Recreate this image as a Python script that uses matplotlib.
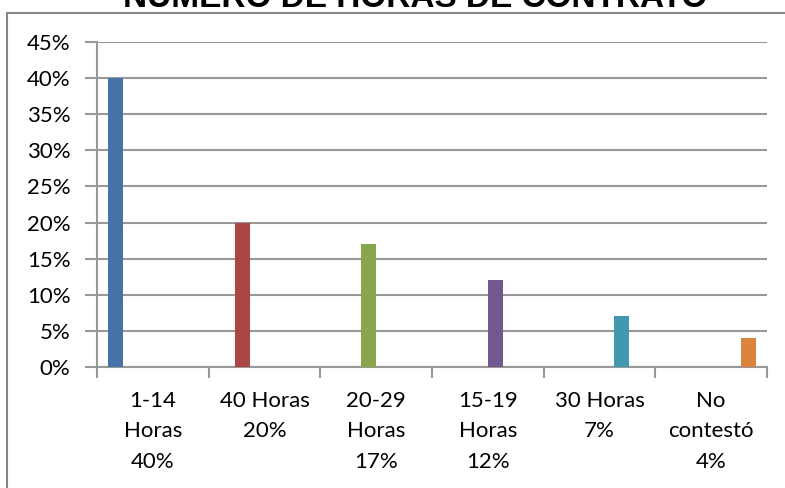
import matplotlib.pyplot as plt
from matplotlib.patches import Rectangle
from matplotlib.ticker import PercentFormatter

categories = ['1-14\nHoras\n40%', '40 Horas\n20%', '20-29\nHoras\n17%',
              '15-19\nHoras\n12%', '30 Horas\n7%', 'No\ncontestó\n4%']
values = [0.40, 0.20, 0.17, 0.12, 0.07, 0.04]
colors = ['#4572A7', '#AA4643', '#89A54E', '#71588F', '#4198AF', '#DB843D']
title = 'NÚMERO DE HORAS DE CONTRATO'

W, H = 785, 488
fig = plt.figure(figsize=(W / 100, H / 100), dpi=100)
fig.patch.set_facecolor('white')

# outer chart border
fig.add_artist(Rectangle((6.5 / W, -0.01), 1.0, 1 - 13 / H + 0.01,
                         transform=fig.transFigure, fill=False,
                         edgecolor='#868686', linewidth=1.5))

ax = fig.add_axes([97 / W, 1 - 367 / H, (767 - 97) / W, (367 - 42) / H])

grid = '#989898'
n = len(values)
w = 1 / (n + 1.5)
for j, (v, c) in enumerate(zip(values, colors)):
    ax.bar(j + (j - (n - 1) / 2) * w, v, width=w, color=c, zorder=3)

ax.set_xlim(-0.5, n - 0.5)
ax.set_ylim(0, 0.45)
ax.set_yticks([i * 0.05 for i in range(10)])
ax.yaxis.set_major_formatter(PercentFormatter(1.0, decimals=0))
ax.yaxis.grid(True, color=grid, linewidth=1.5, zorder=0)

ax.set_xticks([i - 0.5 for i in range(n + 1)])
ax.set_xticklabels([])
ax.set_xticks(range(n), minor=True)
ax.set_xticklabels(categories, minor=True, fontsize=16, family='Lato',
                   linespacing=1.68)
ax.tick_params(axis='x', which='minor', length=0, pad=17)
ax.tick_params(axis='x', which='major', length=8, width=1.5, color=grid)
ax.tick_params(axis='y', length=9, width=1.5, color=grid, pad=10,
               labelsize=16)
for lab in ax.get_yticklabels():
    lab.set_family('Lato')

for s in ['top', 'right']:
    ax.spines[s].set_visible(False)
for s in ['left', 'bottom']:
    ax.spines[s].set_color(grid)
    ax.spines[s].set_linewidth(1.5)

fig.text(415 / W, 1 - 7 / H, title, ha='center', va='baseline',
         fontsize=24, fontweight='bold', family='Liberation Sans')

fig.savefig('out.png', dpi=100)
